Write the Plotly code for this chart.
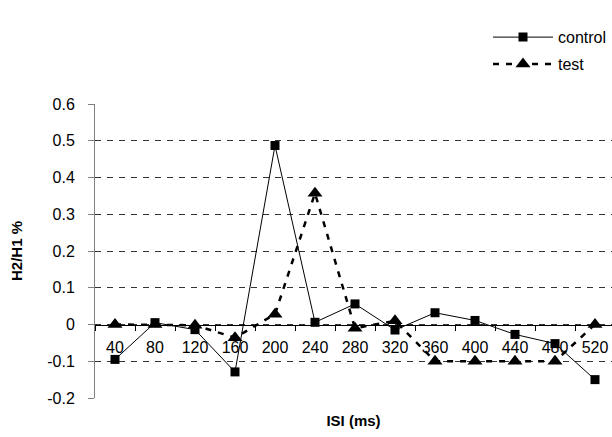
import plotly.graph_objects as go

categories = ["40", "80", "120", "160", "200", "240", "280", "320", "360", "400", "440", "480", "520"]
control = [-0.095, 0.005, -0.014, -0.129, 0.487, 0.006, 0.056, -0.015, 0.032, 0.011, -0.027, -0.052, -0.150]
test = [0.0, 0.0, -0.002, -0.036, 0.028, 0.357, -0.010, 0.010, -0.100, -0.100, -0.100, -0.100, 0.0]

font = "Liberation Sans, Arial, sans-serif"

fig = go.Figure()
fig.add_trace(go.Scatter(
    x=categories, y=control, name="control", mode="lines+markers",
    line=dict(color="black", width=1),
    marker=dict(symbol="square", size=9, color="black"),
    legendgroup="a",
))
fig.add_trace(go.Scatter(
    x=categories, y=test, name="test", mode="lines+markers",
    line=dict(color="black", width=2.5, dash="6px,7px"),
    marker=dict(symbol="triangle-up", size=13, color="black"),
    legendgroup="b",
))

fig.update_layout(
    width=612, height=437,
    margin=dict(l=95, r=0, t=104, b=39),
    paper_bgcolor="white", plot_bgcolor="white",
    font=dict(family=font, size=16, color="black"),
    showlegend=True,
    legend=dict(
        x=1.0, xanchor="right", y=1.285, yanchor="top",
        traceorder="grouped", tracegroupgap=3,
        font=dict(family=font, size=16, color="black"),
        bgcolor="rgba(0,0,0,0)", itemwidth=60,
    ),
    xaxis=dict(
        type="category",
        range=[-0.5, 12.425],
        anchor="free", position=0.25,
        showline=True, linecolor="black", linewidth=1,
        ticks="outside", ticklen=5, tickcolor="black", tickson="boundaries",
        ticklabelstandoff=8,
        showgrid=False, zeroline=False,
        tickfont=dict(family=font, size=16, color="black"),
        title=dict(text="<b>ISI (ms)</b>", font=dict(family=font, size=15, color="black"), standoff=60),
        automargin=False,
    ),
    yaxis=dict(
        range=[-0.2, 0.6],
        tickvals=[-0.2, -0.1, 0, 0.1, 0.2, 0.3, 0.4, 0.5, 0.6],
        ticktext=["-0.2", "-0.1", "0", "0.1", "0.2", "0.3", "0.4", "0.5", "0.6"],
        showline=True, linecolor="#808080", linewidth=1,
        ticks="outside", ticklen=6, tickcolor="#808080",
        ticklabelstandoff=10,
        showgrid=True, gridcolor="#333333", gridwidth=1, griddash="6px,6px",
        zeroline=False,
        tickfont=dict(family=font, size=16, color="black"),
        title=dict(text="<b>H2/H1 %</b>", font=dict(family=font, size=15, color="black"), standoff=20),
        automargin=False,
    ),
)

fig.write_html("out.html")
